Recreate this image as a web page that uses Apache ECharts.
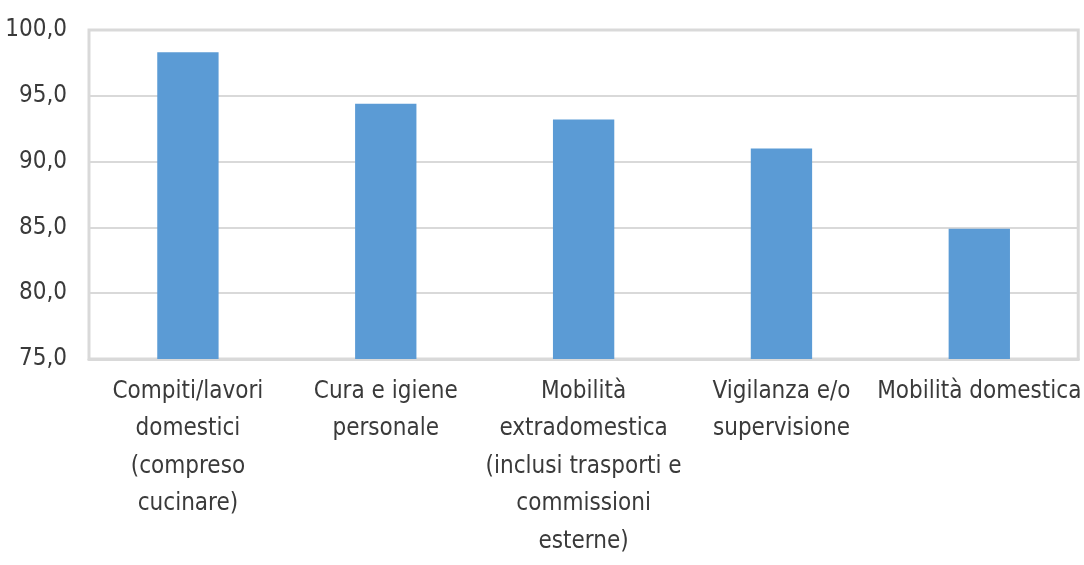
<!DOCTYPE html>
<html>
<head>
<meta charset="utf-8">
<script src="https://cdn.jsdelivr.net/npm/echarts@6/dist/echarts.min.js"></script>
<style>html,body{margin:0;padding:0;background:#fff;}#c{width:1084px;height:565px;}</style>
</head>
<body>
<div id="c"></div>
<script>
const categories = [
  "Compiti/lavori\ndomestici\n(compreso\ncucinare)",
  "Cura e igiene\npersonale",
  "Mobilità\nextradomestica\n(inclusi trasporti e\ncommissioni\nesterne)",
  "Vigilanza e/o\nsupervisione",
  "Mobilità domestica"
];
const values = [98.3, 94.4, 93.2, 91.0, 84.9];
const yMin = 75, yMax = 100, yStep = 5;

const FONT = "'Liberation Sans Narrow', 'DejaVu Sans Condensed', 'Liberation Sans', sans-serif";
const chart = echarts.init(document.getElementById('c'));
chart.setOption({
  animation: false,
  grid: { left: 89, right: 2, top: 30, bottom: 206, show: true, borderColor: '#d9d9d9', borderWidth: 3, containLabel: false },
  xAxis: {
    type: 'category',
    data: categories,
    axisLine: { show: true, lineStyle: { color: '#d9d9d9', width: 3 } },
    axisTick: { show: false },
    axisLabel: { interval: 0, color: '#3a3a3a', fontFamily: FONT, fontSize: 24, lineHeight: 37.5, margin: 14 }
  },
  yAxis: {
    type: 'value',
    min: yMin, max: yMax, interval: yStep,
    axisLine: { show: false },
    axisTick: { show: false },
    splitLine: { lineStyle: { color: '#d9d9d9', width: 2 } },
    axisLabel: { color: '#3a3a3a', fontFamily: FONT, fontSize: 24, margin: 22,
      formatter: v => v.toFixed(1).replace('.', ',') }
  },
  series: [{
    type: 'bar',
    data: values,
    barWidth: '31%',
    itemStyle: { color: '#5B9BD5' }
  }]
});
</script>
</body>
</html>
